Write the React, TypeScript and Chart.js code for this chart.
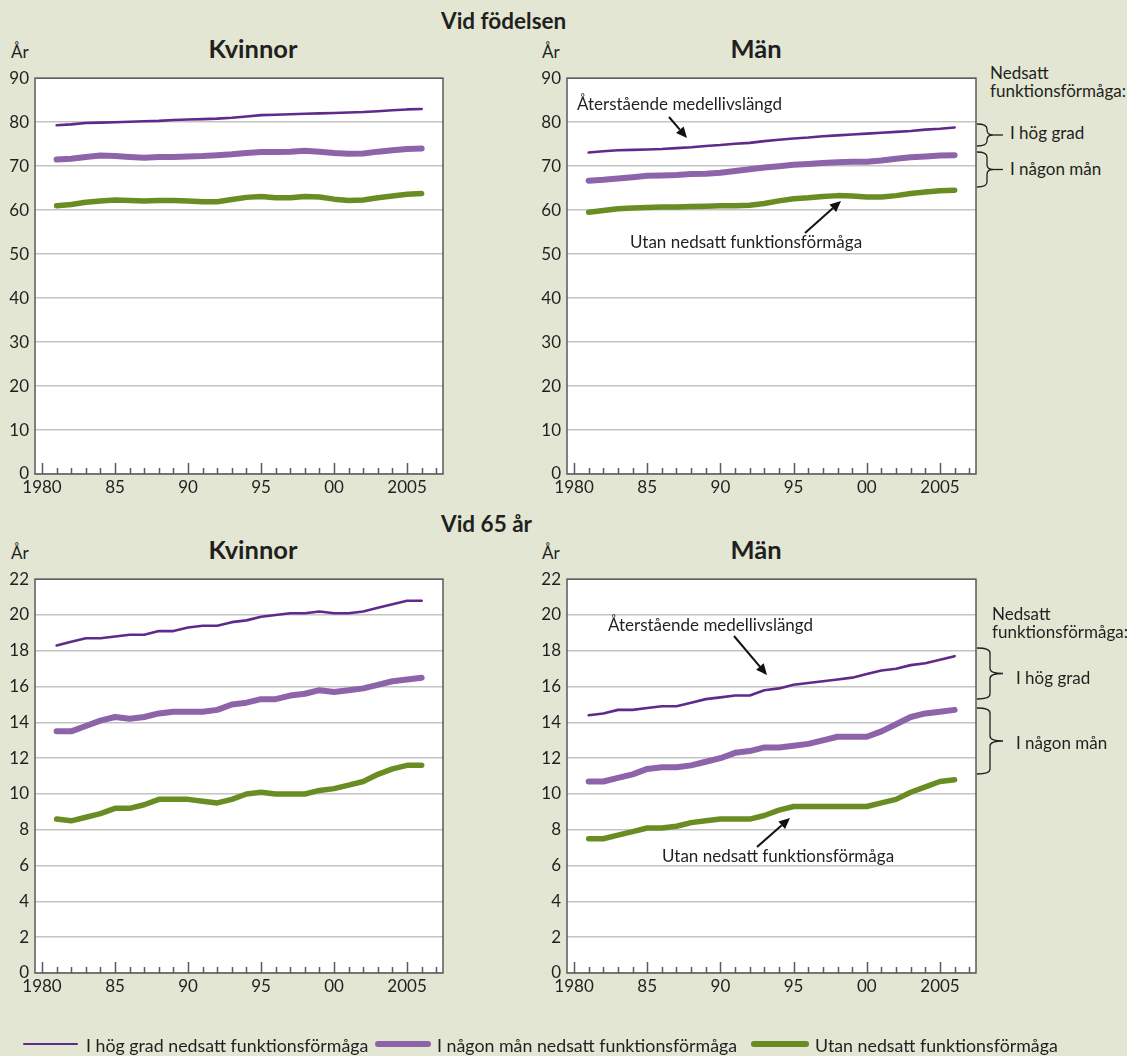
import React, { useEffect, useRef } from 'react';
import { Chart, registerables } from 'chart.js';

Chart.register(...registerables);

// ---------- data ----------
const years = [1981, 1982, 1983, 1984, 1985, 1986, 1987, 1988, 1989, 1990, 1991, 1992, 1993, 1994, 1995, 1996, 1997, 1998, 1999, 2000, 2001, 2002, 2003, 2004, 2005, 2006];
const xTickValues = [1980, 1985, 1990, 1995, 2000, 2005];
const xTickLabels = ['1980', '85', '90', '95', '00', '2005'];
const birthYTicks = [0, 10, 20, 30, 40, 50, 60, 70, 80, 90];
const age65YTicks = [0, 2, 4, 6, 8, 10, 12, 14, 16, 18, 20, 22];

const seriesLabels = ['I hög grad nedsatt funktionsförmåga', 'I någon mån nedsatt funktionsförmåga', 'Utan nedsatt funktionsförmåga'];

const birthWomenHigh = [79.3, 79.5, 79.8, 79.9, 80.0, 80.1, 80.2, 80.3, 80.5, 80.6, 80.7, 80.8, 81.0, 81.3, 81.6, 81.7, 81.8, 81.9, 82.0, 82.1, 82.2, 82.3, 82.5, 82.7, 82.9, 83.0];
const birthWomenSome = [71.5, 71.7, 72.1, 72.4, 72.3, 72.1, 71.9, 72.1, 72.1, 72.2, 72.3, 72.5, 72.7, 73.0, 73.2, 73.2, 73.3, 73.5, 73.3, 73.0, 72.8, 72.9, 73.3, 73.6, 73.9, 74.0];
const birthWomenNone = [61.0, 61.3, 61.8, 62.1, 62.3, 62.2, 62.1, 62.2, 62.2, 62.1, 61.9, 61.9, 62.4, 62.9, 63.1, 62.8, 62.8, 63.1, 63.0, 62.5, 62.2, 62.3, 62.8, 63.2, 63.6, 63.8];

const birthMenHigh = [73.1, 73.4, 73.6, 73.7, 73.8, 73.9, 74.1, 74.3, 74.6, 74.8, 75.1, 75.3, 75.7, 76.0, 76.3, 76.5, 76.8, 77.0, 77.2, 77.4, 77.6, 77.8, 78.0, 78.3, 78.5, 78.8];
const birthMenSome = [66.7, 66.9, 67.2, 67.5, 67.8, 67.9, 68.0, 68.2, 68.3, 68.5, 68.9, 69.3, 69.7, 70.0, 70.3, 70.5, 70.7, 70.9, 71.0, 71.0, 71.3, 71.7, 72.0, 72.2, 72.4, 72.5];
const birthMenNone = [59.5, 59.9, 60.3, 60.5, 60.6, 60.7, 60.7, 60.8, 60.9, 61.0, 61.0, 61.1, 61.5, 62.1, 62.6, 62.8, 63.1, 63.3, 63.2, 63.0, 63.0, 63.3, 63.8, 64.1, 64.4, 64.5];

const age65WomenHigh = [18.3, 18.5, 18.7, 18.7, 18.8, 18.9, 18.9, 19.1, 19.1, 19.3, 19.4, 19.4, 19.6, 19.7, 19.9, 20.0, 20.1, 20.1, 20.2, 20.1, 20.1, 20.2, 20.4, 20.6, 20.8, 20.8];
const age65WomenSome = [13.5, 13.5, 13.8, 14.1, 14.3, 14.2, 14.3, 14.5, 14.6, 14.6, 14.6, 14.7, 15.0, 15.1, 15.3, 15.3, 15.5, 15.6, 15.8, 15.7, 15.8, 15.9, 16.1, 16.3, 16.4, 16.5];
const age65WomenNone = [8.6, 8.5, 8.7, 8.9, 9.2, 9.2, 9.4, 9.7, 9.7, 9.7, 9.6, 9.5, 9.7, 10.0, 10.1, 10.0, 10.0, 10.0, 10.2, 10.3, 10.5, 10.7, 11.1, 11.4, 11.6, 11.6];

const age65MenHigh = [14.4, 14.5, 14.7, 14.7, 14.8, 14.9, 14.9, 15.1, 15.3, 15.4, 15.5, 15.5, 15.8, 15.9, 16.1, 16.2, 16.3, 16.4, 16.5, 16.7, 16.9, 17.0, 17.2, 17.3, 17.5, 17.7];
const age65MenSome = [10.7, 10.7, 10.9, 11.1, 11.4, 11.5, 11.5, 11.6, 11.8, 12.0, 12.3, 12.4, 12.6, 12.6, 12.7, 12.8, 13.0, 13.2, 13.2, 13.2, 13.5, 13.9, 14.3, 14.5, 14.6, 14.7];
const age65MenNone = [7.5, 7.5, 7.7, 7.9, 8.1, 8.1, 8.2, 8.4, 8.5, 8.6, 8.6, 8.6, 8.8, 9.1, 9.3, 9.3, 9.3, 9.3, 9.3, 9.3, 9.5, 9.7, 10.1, 10.4, 10.7, 10.8];

// ---------- style ----------
const BG = '#e2e6d3';
const TEXT = '#231f20';
const C_HIGH = '#5f2a8c';
const C_SOME = '#8d64a9';
const C_NONE = '#6a8d23';
const W_HIGH = 2.6;
const W_SOME = 6;
const W_NONE = 5.5;
const FONT = 'Lato, "Open Sans", sans-serif';

const framePlugin = {
  id: 'frame',
  beforeDraw(chart: any) {
    const { ctx, chartArea: a } = chart;
    ctx.save();
    ctx.fillStyle = '#ffffff';
    ctx.fillRect(a.left, a.top, a.right - a.left, a.bottom - a.top);
    ctx.restore();
  },
  beforeDatasetsDraw(chart: any) {
    const { ctx, chartArea: a } = chart;
    const xs = chart.scales.x;
    ctx.save();
    ctx.strokeStyle = '#58595b';
    ctx.lineWidth = 1.5;
    ctx.strokeRect(a.left, a.top, a.right - a.left, a.bottom - a.top);
    ctx.beginPath();
    for (let yr = 1980; yr <= 2007; yr++) {
      const x = Math.round(xs.getPixelForValue(yr)) + 0.5;
      const len = yr % 5 === 0 ? 11 : 6;
      ctx.moveTo(x, a.bottom);
      ctx.lineTo(x, a.bottom - len);
    }
    ctx.stroke();
    ctx.restore();
  },
};

type PanelProps = {
  plotLeft: number;
  plotTop: number;
  plotRight: number;
  plotBottom: number;
  high: number[];
  some: number[];
  none: number[];
  yMax: number;
  yTicks: number[];
};

function Panel(p: PanelProps) {
  const ref = useRef<HTMLCanvasElement | null>(null);
  const padTop = 14;
  const padRight = 14;
  const yAxisW = 35;
  const xAxisH = 30;
  const left = p.plotLeft - yAxisW;
  const top = p.plotTop - padTop;
  const width = p.plotRight - left + padRight;
  const height = p.plotBottom - top + xAxisH;

  useEffect(() => {
    if (!ref.current) return;
    const mk = (vals: number[], color: string, w: number, label: string) => ({
      label,
      data: years.map((yr, i) => ({ x: yr, y: vals[i] })),
      borderColor: color,
      backgroundColor: color,
      borderWidth: w,
      pointRadius: 0,
      tension: 0,
      borderCapStyle: 'round',
      borderJoinStyle: 'round',
      fill: false,
    });
    const chart = new Chart(ref.current, {
      type: 'line',
      data: {
        datasets: [
          mk(p.none, C_NONE, W_NONE, seriesLabels[2]),
          mk(p.some, C_SOME, W_SOME, seriesLabels[1]),
          mk(p.high, C_HIGH, W_HIGH, seriesLabels[0]),
        ],
      },
      options: {
        animation: false,
        responsive: false,
        maintainAspectRatio: false,
        devicePixelRatio: 1,
        layout: { padding: { top: padTop, right: padRight, left: 0, bottom: 0 } },
        plugins: { legend: { display: false }, tooltip: { enabled: false } },
        scales: {
          x: {
            type: 'linear',
            min: 1979.52,
            max: 2007.46,
            grid: { display: false, drawTicks: false },
            border: { display: false },
            afterBuildTicks: (s: any) => {
              s.ticks = xTickValues.map((v) => ({ value: v }));
            },
            afterFit: (s: any) => {
              s.height = xAxisH;
            },
            ticks: {
              autoSkip: false,
              maxRotation: 0,
              padding: 3,
              color: TEXT,
              font: { family: FONT, size: 17 },
              callback: (v: any) => {
                const i = xTickValues.indexOf(Number(v));
                return i >= 0 ? xTickLabels[i] : '';
              },
            },
          },
          y: {
            type: 'linear',
            min: 0,
            max: p.yMax,
            afterBuildTicks: (s: any) => {
              s.ticks = p.yTicks.map((v) => ({ value: v }));
            },
            afterFit: (s: any) => {
              s.width = yAxisW;
            },
            grid: { color: '#c4c4c4', lineWidth: 1.5, drawTicks: false },
            border: { display: false },
            ticks: {
              padding: 6,
              color: TEXT,
              font: { family: FONT, size: 17 },
            },
          },
        },
      } as any,
      plugins: [framePlugin],
    } as any);
    return () => chart.destroy();
  }, []);

  return (
    <canvas
      ref={ref}
      width={width}
      height={height}
      style={{ position: 'absolute', left, top, width, height }}
    />
  );
}

function T(props: { x: number; b: number; size: number; bold?: boolean; center?: boolean; children: React.ReactNode }) {
  const { x, b, size, bold, center, children } = props;
  return (
    <div
      style={{
        position: 'absolute',
        left: x,
        top: b - 0.887 * size,
        fontSize: size,
        lineHeight: `${size}px`,
        fontWeight: bold ? 700 : 400,
        whiteSpace: 'nowrap',
        transform: center ? 'translateX(-50%)' : undefined,
        color: TEXT,
      }}
    >
      {children}
    </div>
  );
}

function Arrow({ x1, y1, x2, y2 }: { x1: number; y1: number; x2: number; y2: number }) {
  const dx = x2 - x1;
  const dy = y2 - y1;
  const L = Math.hypot(dx, dy);
  const ux = dx / L;
  const uy = dy / L;
  const hl = 11;
  const hw = 5;
  const bx = x2 - ux * hl;
  const by = y2 - uy * hl;
  const pts = `${x2},${y2} ${bx - uy * hw},${by + ux * hw} ${bx + uy * hw},${by - ux * hw}`;
  return (
    <g>
      <line x1={x1} y1={y1} x2={bx} y2={by} stroke="#111" strokeWidth={2} />
      <polygon points={pts} fill="#111" />
    </g>
  );
}

function Brace({ x0, xs, xt, y1, y2, dash }: { x0: number; xs: number; xt: number; y1: number; y2: number; dash?: number }) {
  const ym = (y1 + y2) / 2;
  const r = 5;
  const d = `M ${x0} ${y1} Q ${xs} ${y1} ${xs} ${y1 + r} L ${xs} ${ym - r} Q ${xs} ${ym} ${xt} ${ym} Q ${xs} ${ym} ${xs} ${ym + r} L ${xs} ${y2 - r} Q ${xs} ${y2} ${x0} ${y2}`;
  return (
    <g>
      <path d={d} fill="none" stroke="#231f20" strokeWidth={1.3} />
      {dash ? <line x1={xt} y1={ym} x2={dash} y2={ym} stroke="#231f20" strokeWidth={1.3} /> : null}
    </g>
  );
}

function LegendLine({ x1, x2, y, w, color }: { x1: number; x2: number; y: number; w: number; color: string }) {
  return (
    <div
      style={{
        position: 'absolute',
        left: x1,
        top: y - w / 2,
        width: x2 - x1,
        height: w,
        background: color,
        borderRadius: w / 2,
      }}
    />
  );
}

export default function App() {
  return (
    <div
      style={{
        position: 'absolute',
        left: 0,
        top: 0,
        width: 1127,
        height: 1056,
        background: BG,
        fontFamily: FONT,
        color: TEXT,
        overflow: 'hidden',
      }}
    >
      <T x={441} b={30} size={22.5} bold>Vid födelsen</T>
      <T x={441} b={533} size={22.5} bold>Vid 65 år</T>

      <T x={11} b={58} size={17}>År</T>
      <T x={253} b={59} size={25.5} bold center>Kvinnor</T>
      <T x={542} b={58} size={17}>År</T>
      <T x={756} b={59} size={25.5} bold center>Män</T>

      <T x={11} b={559} size={17}>År</T>
      <T x={253} b={560} size={25.5} bold center>Kvinnor</T>
      <T x={542} b={559} size={17}>År</T>
      <T x={756} b={560} size={25.5} bold center>Män</T>

      <Panel plotLeft={35} plotTop={76} plotRight={443} plotBottom={474}
        high={birthWomenHigh} some={birthWomenSome} none={birthWomenNone} yMax={90} yTicks={birthYTicks} />
      <Panel plotLeft={567} plotTop={76} plotRight={976} plotBottom={474}
        high={birthMenHigh} some={birthMenSome} none={birthMenNone} yMax={90} yTicks={birthYTicks} />
      <Panel plotLeft={35} plotTop={577} plotRight={443} plotBottom={973}
        high={age65WomenHigh} some={age65WomenSome} none={age65WomenNone} yMax={22} yTicks={age65YTicks} />
      <Panel plotLeft={567} plotTop={577} plotRight={976} plotBottom={973}
        high={age65MenHigh} some={age65MenSome} none={age65MenNone} yMax={22} yTicks={age65YTicks} />

      {/* annotations: birth, men */}
      <T x={577} b={110} size={17}>Återstående medellivslängd</T>
      <T x={630} b={248} size={17}>Utan nedsatt funktionsförmåga</T>
      <T x={990} b={79} size={17}>Nedsatt</T>
      <T x={990} b={97} size={17}>funktionsförmåga:</T>
      <T x={1010} b={139} size={17}>I hög grad</T>
      <T x={1010} b={175} size={17}>I någon mån</T>

      {/* annotations: 65, men */}
      <T x={608} b={631} size={17}>Återstående medellivslängd</T>
      <T x={662} b={862} size={17}>Utan nedsatt funktionsförmåga</T>
      <T x={992} b={620} size={17}>Nedsatt</T>
      <T x={992} b={638} size={17}>funktionsförmåga:</T>
      <T x={1016} b={684} size={17}>I hög grad</T>
      <T x={1016} b={749} size={17}>I någon mån</T>

      <svg width={1127} height={1056} style={{ position: 'absolute', left: 0, top: 0, pointerEvents: 'none' }}>
        <Arrow x1={669} y1={117} x2={687} y2={138} />
        <Arrow x1={805} y1={233} x2={841} y2={201} />
        <Brace x0={977} xs={987} xt={993} y1={124} y2={146} dash={1003} />
        <Brace x0={977} xs={987} xt={993} y1={152} y2={187} dash={1003} />

        <Arrow x1={734} y1={636} x2={767} y2={675} />
        <Arrow x1={757} y1={847} x2={790} y2={818} />
        <Brace x0={977} xs={990} xt={1003} y1={648} y2={699} />
        <Brace x0={977} xs={990} xt={1003} y1={708} y2={774} />
      </svg>

      {/* legend */}
      <LegendLine x1={23} x2={78} y={1044} w={2.6} color={C_HIGH} />
      <T x={86} b={1053} size={17.8}>{seriesLabels[0]}</T>
      <LegendLine x1={375} x2={431} y={1044} w={6} color={C_SOME} />
      <T x={437} b={1053} size={17.8}>{seriesLabels[1]}</T>
      <LegendLine x1={751} x2={809} y={1044} w={5.5} color={C_NONE} />
      <T x={815} b={1053} size={17.8}>{seriesLabels[2]}</T>
    </div>
  );
}
